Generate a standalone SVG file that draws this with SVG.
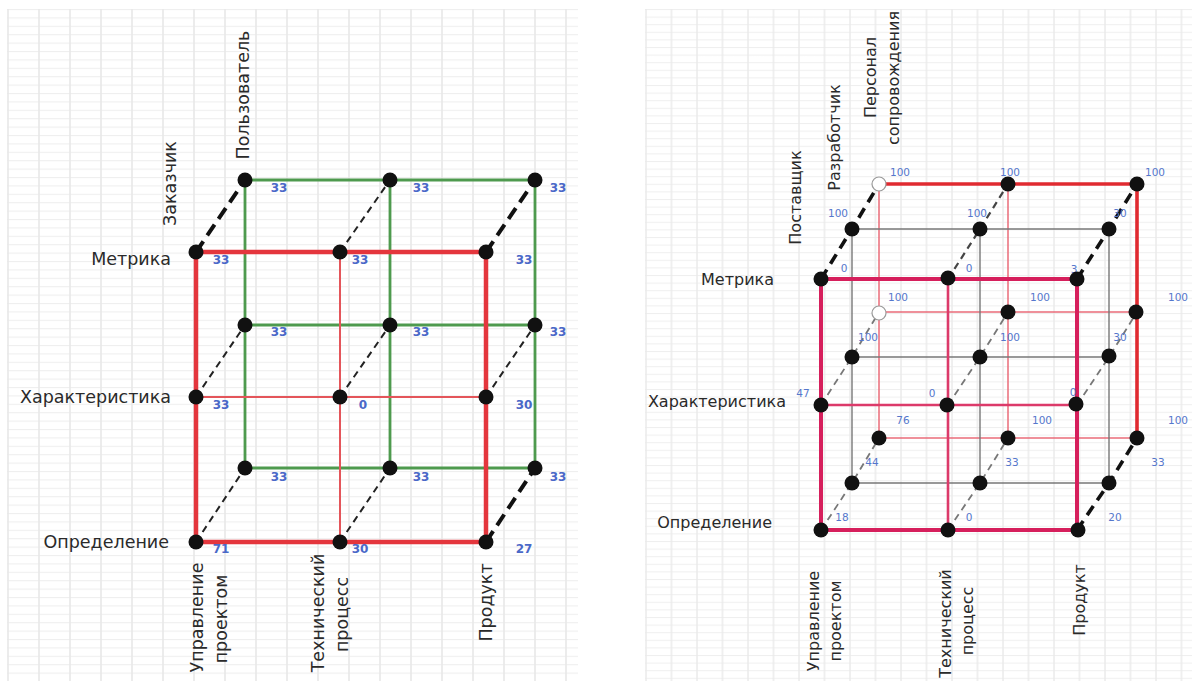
<svg xmlns="http://www.w3.org/2000/svg" width="1192" height="681" viewBox="0 0 1192 681">
<defs>
<style>
.lab{font-family:"DejaVu Sans",Verdana,sans-serif;fill:#2a2a2a}
.lL{font-size:17.5px}
.lR{font-size:16px}
.nL{font-family:"DejaVu Sans",sans-serif;font-size:12px;font-weight:bold;fill:#4a68c8;text-anchor:middle}
.nR{font-family:"DejaVu Sans",sans-serif;font-size:10.5px;fill:#5577cc;text-anchor:middle}
.dot{fill:#111}
.open{fill:#fff;stroke:#9a9a9a;stroke-width:1.2}
.redT{stroke:#e4363d;stroke-width:4.5;fill:none}
.redt{stroke:#e4555a;stroke-width:2;fill:none}
.grn{stroke:#4e9a4e;stroke-width:2.8;fill:none}
.dT{stroke:#111;stroke-width:4;stroke-dasharray:13 7;fill:none}
.dt{stroke:#222;stroke-width:2;stroke-dasharray:7 5;fill:none}
.pkT{stroke:#d61f5c;stroke-width:4;fill:none}
.pkm{stroke:#dc3a6a;stroke-width:2.6;fill:none}
.gry{stroke:#777;stroke-width:1.4;fill:none}
.bRT{stroke:#e02a30;stroke-width:3.6;fill:none}
.bRt{stroke:#ea6b78;stroke-width:1.5;fill:none}
.dRT{stroke:#111;stroke-width:3.6;stroke-dasharray:11 7;fill:none}
.dRt{stroke:#777;stroke-width:1.8;stroke-dasharray:7 5;fill:none}
</style>
<pattern id="gL" x="7" y="9" width="31" height="8.4" patternUnits="userSpaceOnUse">
<rect width="31" height="8.4" fill="#fff"/>
<line x1="0" y1="0.5" x2="31" y2="0.5" stroke="#eeeeee" stroke-width="1"/>
<line x1="1" y1="0" x2="1" y2="8.4" stroke="#e8e8e8" stroke-width="1.6"/>
</pattern>
<pattern id="gR" x="645" y="9" width="25.5" height="7.6" patternUnits="userSpaceOnUse">
<rect width="25.5" height="7.6" fill="#fff"/>
<line x1="0" y1="0.5" x2="25.5" y2="0.5" stroke="#efefef" stroke-width="1"/>
<line x1="1" y1="0" x2="1" y2="7.6" stroke="#eaeaea" stroke-width="1.4"/>
</pattern>
</defs>
<rect width="1192" height="681" fill="#fff"/>
<rect x="7" y="9" width="571" height="672" fill="url(#gL)"/>
<rect x="645" y="9" width="547" height="672" fill="url(#gR)"/>

<g id="connectors">
<line class="grn" x1="245" y1="180" x2="535" y2="180"/>
<line class="grn" x1="245" y1="325" x2="535" y2="325"/>
<line class="grn" x1="245" y1="468" x2="535" y2="468"/>
<line class="grn" x1="245" y1="180" x2="245" y2="468"/>
<line class="grn" x1="390" y1="180" x2="390" y2="468"/>
<line class="grn" x1="535" y1="180" x2="535" y2="468"/>
<line class="redt" x1="196" y1="397" x2="486" y2="397"/>
<line class="redt" x1="340" y1="252" x2="340" y2="542"/>
<line class="redT" x1="196" y1="252" x2="486" y2="252"/>
<line class="redT" x1="196" y1="542" x2="486" y2="542"/>
<line class="redT" x1="196" y1="252" x2="196" y2="542"/>
<line class="redT" x1="486" y1="252" x2="486" y2="542"/>
<line class="dT" x1="196" y1="252" x2="245" y2="180"/>
<line class="dt" x1="340" y1="252" x2="390" y2="180"/>
<line class="dT" x1="486" y1="252" x2="535" y2="180"/>
<line class="dt" x1="196" y1="397" x2="245" y2="325"/>
<line class="dt" x1="340" y1="397" x2="390" y2="325"/>
<line class="dt" x1="486" y1="397" x2="535" y2="325"/>
<line class="dt" x1="196" y1="542" x2="245" y2="468"/>
<line class="dt" x1="340" y1="542" x2="390" y2="468"/>
<line class="dT" x1="486" y1="542" x2="535" y2="468"/>

<line class="bRt" x1="879" y1="312" x2="1137" y2="312"/>
<line class="bRt" x1="879" y1="438" x2="1137" y2="438"/>
<line class="bRt" x1="879" y1="184" x2="879" y2="438"/>
<line class="bRt" x1="1008" y1="184" x2="1008" y2="438"/>
<line class="bRT" x1="879" y1="184" x2="1137" y2="184"/>
<line class="bRT" x1="1137" y1="184" x2="1137" y2="438"/>
<line class="gry" x1="852" y1="229" x2="1109" y2="229"/>
<line class="gry" x1="852" y1="357" x2="1109" y2="357"/>
<line class="gry" x1="852" y1="483" x2="1109" y2="483"/>
<line class="gry" x1="852" y1="229" x2="852" y2="483"/>
<line class="gry" x1="980" y1="229" x2="980" y2="483"/>
<line class="gry" x1="1109" y1="229" x2="1109" y2="483"/>
<line class="pkm" x1="821" y1="405" x2="1077" y2="405"/>
<line class="pkm" x1="948" y1="279" x2="948" y2="530"/>
<line class="pkT" x1="821" y1="279" x2="1077" y2="279"/>
<line class="pkT" x1="821" y1="530" x2="1077" y2="530"/>
<line class="pkT" x1="821" y1="279" x2="821" y2="530"/>
<line class="pkT" x1="1077" y1="279" x2="1077" y2="530"/>
<polyline class="dRT" points="821,279 852,229 879,184"/>
<polyline class="dRt" style="stroke:#444;stroke-width:2.2" points="948,279 980,229 1008,184"/>
<polyline class="dRT" points="1077,279 1109,229 1137,184"/>
<polyline class="dRt" points="821,405 852,357 879,312"/>
<polyline class="dRt" points="948,405 980,357 1008,312"/>
<polyline class="dRt" points="1077,405 1109,357 1137,312"/>
<polyline class="dRt" points="821,530 852,483 879,438"/>
<polyline class="dRt" points="948,530 980,483 1008,438"/>
<polyline class="dRT" points="1077,530 1109,483 1137,438"/>
</g>

<g id="L-b00"><circle class="dot" cx="245" cy="180" r="7.5"/><text class="nL" x="279" y="192">33</text></g>
<g id="L-b01"><circle class="dot" cx="390" cy="180" r="7.5"/><text class="nL" x="421" y="192">33</text></g>
<g id="L-b02"><circle class="dot" cx="535" cy="180" r="7.5"/><text class="nL" x="558" y="192">33</text></g>
<g id="L-b10"><circle class="dot" cx="245" cy="325" r="7.5"/><text class="nL" x="279" y="336">33</text></g>
<g id="L-b11"><circle class="dot" cx="390" cy="325" r="7.5"/><text class="nL" x="421" y="336">33</text></g>
<g id="L-b12"><circle class="dot" cx="535" cy="325" r="7.5"/><text class="nL" x="558" y="336">33</text></g>
<g id="L-b20"><circle class="dot" cx="245" cy="468" r="7.5"/><text class="nL" x="279" y="481">33</text></g>
<g id="L-b21"><circle class="dot" cx="390" cy="468" r="7.5"/><text class="nL" x="421" y="481">33</text></g>
<g id="L-b22"><circle class="dot" cx="535" cy="468" r="7.5"/><text class="nL" x="558" y="481">33</text></g>
<g id="L-f00"><circle class="dot" cx="196" cy="252" r="7.5"/><text class="nL" x="221" y="264">33</text></g>
<g id="L-f01"><circle class="dot" cx="340" cy="252" r="7.5"/><text class="nL" x="360" y="264">33</text></g>
<g id="L-f02"><circle class="dot" cx="486" cy="252" r="7.5"/><text class="nL" x="524" y="264">33</text></g>
<g id="L-f10"><circle class="dot" cx="196" cy="397" r="7.5"/><text class="nL" x="221" y="409">33</text></g>
<g id="L-f11"><circle class="dot" cx="340" cy="397" r="7.5"/><text class="nL" x="363" y="409">0</text></g>
<g id="L-f12"><circle class="dot" cx="486" cy="397" r="7.5"/><text class="nL" x="524" y="409">30</text></g>
<g id="L-f20"><circle class="dot" cx="196" cy="542" r="7.5"/><text class="nL" x="221" y="553">71</text></g>
<g id="L-f21"><circle class="dot" cx="340" cy="542" r="7.5"/><text class="nL" x="360" y="553">30</text></g>
<g id="L-f22"><circle class="dot" cx="486" cy="542" r="7.5"/><text class="nL" x="524" y="553">27</text></g>

<g id="R-b00"><circle class="open" cx="879" cy="184" r="7"/><text class="nR" x="900" y="176">100</text></g>
<g id="R-b01"><circle class="dot" cx="1008" cy="184" r="7.5"/><text class="nR" x="1010" y="176">100</text></g>
<g id="R-b02"><circle class="dot" cx="1137" cy="184" r="7.5"/><text class="nR" x="1155" y="176">100</text></g>
<g id="R-b10"><circle class="open" cx="879" cy="313" r="7"/><text class="nR" x="898" y="301">100</text></g>
<g id="R-b11"><circle class="dot" cx="1008" cy="312" r="7.5"/><text class="nR" x="1040" y="301">100</text></g>
<g id="R-b12"><circle class="dot" cx="1136" cy="312" r="7.5"/><text class="nR" x="1178" y="301">100</text></g>
<g id="R-b20"><circle class="dot" cx="879" cy="438" r="7.5"/><text class="nR" x="903" y="424">76</text></g>
<g id="R-b21"><circle class="dot" cx="1008" cy="438" r="7.5"/><text class="nR" x="1042" y="424">100</text></g>
<g id="R-b22"><circle class="dot" cx="1137" cy="438" r="7.5"/><text class="nR" x="1178" y="424">100</text></g>
<g id="R-m00"><circle class="dot" cx="852" cy="229" r="7.5"/><text class="nR" x="838" y="217">100</text></g>
<g id="R-m01"><circle class="dot" cx="980" cy="229" r="7.5"/><text class="nR" x="977" y="217">100</text></g>
<g id="R-m02"><circle class="dot" cx="1109" cy="229" r="7.5"/><text class="nR" x="1120" y="217">30</text></g>
<g id="R-m10"><circle class="dot" cx="852" cy="357" r="7.5"/><text class="nR" x="868" y="341">100</text></g>
<g id="R-m11"><circle class="dot" cx="980" cy="357" r="7.5"/><text class="nR" x="1010" y="341">100</text></g>
<g id="R-m12"><circle class="dot" cx="1109" cy="356" r="7.5"/><text class="nR" x="1120" y="341">30</text></g>
<g id="R-m20"><circle class="dot" cx="852" cy="483" r="7.5"/><text class="nR" x="872" y="466">44</text></g>
<g id="R-m21"><circle class="dot" cx="980" cy="483" r="7.5"/><text class="nR" x="1012" y="466">33</text></g>
<g id="R-m22"><circle class="dot" cx="1109" cy="483" r="7.5"/><text class="nR" x="1158" y="466">33</text></g>
<g id="R-f00"><circle class="dot" cx="821" cy="279" r="7.5"/><text class="nR" x="844" y="272">0</text></g>
<g id="R-f01"><circle class="dot" cx="948" cy="278" r="7.5"/><text class="nR" x="969" y="272">0</text></g>
<g id="R-f02"><text class="nR" x="1074" y="273">3</text><circle class="dot" cx="1077" cy="279" r="7.5"/></g>
<g id="R-f10"><circle class="dot" cx="821" cy="405" r="7.5"/><text class="nR" x="803" y="397">47</text></g>
<g id="R-f11"><circle class="dot" cx="947" cy="405" r="7.5"/><text class="nR" x="932" y="397">0</text></g>
<g id="R-f12"><circle class="dot" cx="1076" cy="404" r="7.5"/><text class="nR" x="1073" y="396">0</text></g>
<g id="R-f20"><circle class="dot" cx="821" cy="530" r="7.5"/><text class="nR" x="842" y="521">18</text></g>
<g id="R-f21"><circle class="dot" cx="948" cy="530" r="7.5"/><text class="nR" x="969" y="521">0</text></g>
<g id="R-f22"><circle class="dot" cx="1078" cy="530" r="7.5"/><text class="nR" x="1115" y="521">20</text></g>

<g id="L-labels">
<text class="lab lL" x="171" y="259" text-anchor="end" dominant-baseline="central">Метрика</text>
<text class="lab lL" x="171" y="397" text-anchor="end" dominant-baseline="central">Характеристика</text>
<text class="lab lL" x="169" y="542" text-anchor="end" dominant-baseline="central">Определение</text>
<text class="lab lL" text-anchor="middle" transform="translate(249,95) rotate(-90)">Пользователь</text>
<text class="lab lL" text-anchor="middle" transform="translate(176,183.5) rotate(-90)">Заказчик</text>
<text class="lab lL" text-anchor="middle" transform="translate(203,617.5) rotate(-90)">Управление</text>
<text class="lab lL" text-anchor="middle" transform="translate(227,619) rotate(-90)">проектом</text>
<text class="lab lL" text-anchor="middle" transform="translate(324,613) rotate(-90)">Технический</text>
<text class="lab lL" text-anchor="middle" transform="translate(348,614.5) rotate(-90)">процесс</text>
<text class="lab lL" text-anchor="middle" transform="translate(492,602.5) rotate(-90)">Продукт</text>
</g>

<g id="R-labels">
<text class="lab lR" x="774" y="279" text-anchor="end" dominant-baseline="central">Метрика</text>
<text class="lab lR" x="786" y="401" text-anchor="end" dominant-baseline="central">Характеристика</text>
<text class="lab lR" x="772" y="522" text-anchor="end" dominant-baseline="central">Определение</text>
<text class="lab lR" text-anchor="middle" transform="translate(801,197.5) rotate(-90)">Поставщик</text>
<text class="lab lR" text-anchor="middle" transform="translate(840,137.5) rotate(-90)">Разработчик</text>
<text class="lab lR" text-anchor="middle" transform="translate(876,77.5) rotate(-90)">Персонал</text>
<text class="lab lR" text-anchor="middle" transform="translate(899,78) rotate(-90)">сопровождения</text>
<text class="lab lR" text-anchor="middle" transform="translate(819,621) rotate(-90)">Управление</text>
<text class="lab lR" text-anchor="middle" transform="translate(841,621) rotate(-90)">проектом</text>
<text class="lab lR" text-anchor="middle" transform="translate(951,623.5) rotate(-90)">Технический</text>
<text class="lab lR" text-anchor="middle" transform="translate(973,621) rotate(-90)">процесс</text>
<text class="lab lR" text-anchor="middle" transform="translate(1085,600) rotate(-90)">Продукт</text>
</g>
</svg>
